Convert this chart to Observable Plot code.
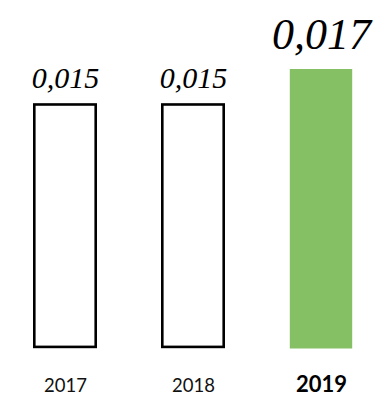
<!DOCTYPE html>
<html>
<head>
<meta charset="utf-8">
<script src="https://cdn.jsdelivr.net/npm/d3@7"></script>
<script src="https://cdn.jsdelivr.net/npm/@observablehq/plot@0.6"></script>
<style>
  html, body { margin: 0; padding: 0; background: #fff; }
  #chart svg { display: block; }
</style>
</head>
<body>
<div id="chart"></div>
<script>
const years = ["2017", "2018", "2019"];
const values = [0.015, 0.015, 0.017];
const valueLabels = ["0,015", "0,015", "0,017"];
const highlightYear = "2019";

const data = years.map((year, i) => ({ year, value: values[i], label: valueLabels[i] }));
const prior = data.filter(d => d.year !== highlightYear);
const current = data.filter(d => d.year === highlightYear);

const chart = Plot.plot({
  width: 382,
  height: 396,
  marginLeft: 10,
  marginRight: 7,
  marginTop: 0,
  marginBottom: 0,
  style: { background: "white" },
  x: { domain: years, paddingInner: 0.5, paddingOuter: 0.169, axis: null },
  y: { domain: [0, 0.017], range: [348.5, 69], axis: null },
  marks: [
    Plot.barY(prior, {
      x: "year", y: "value", fill: "white", stroke: "black", strokeWidth: 2.6,
      insetLeft: 1.3, insetRight: 1.3, insetTop: 2.6, insetBottom: 1.6
    }),
    Plot.barY(current, {
      x: "year", y: "value", fill: "#85c064", insetLeft: 0.8, insetRight: 0.8
    }),
    Plot.text(prior, {
      x: "year", y: "value", text: "label",
      fontFamily: "Liberation Serif", fontStyle: "italic", fontSize: 30,
      lineAnchor: "bottom", dy: -14, fill: "black"
    }),
    Plot.text(current, {
      x: "year", y: "value", text: "label",
      fontFamily: "Liberation Serif", fontStyle: "italic", fontSize: 44,
      lineAnchor: "bottom", dy: -21, fill: "black"
    }),
    Plot.text(prior, {
      x: "year", text: "year", frameAnchor: "bottom", lineAnchor: "bottom", dy: -4.5,
      fontFamily: "Lato", fontSize: 18.5, fill: "#111"
    }),
    Plot.text(current, {
      x: "year", text: "year", frameAnchor: "bottom", lineAnchor: "bottom", dy: -4.5,
      fontFamily: "Lato", fontSize: 22, fontWeight: "bold", fill: "black"
    })
  ]
});
document.getElementById("chart").appendChild(chart);
</script>
</body>
</html>
